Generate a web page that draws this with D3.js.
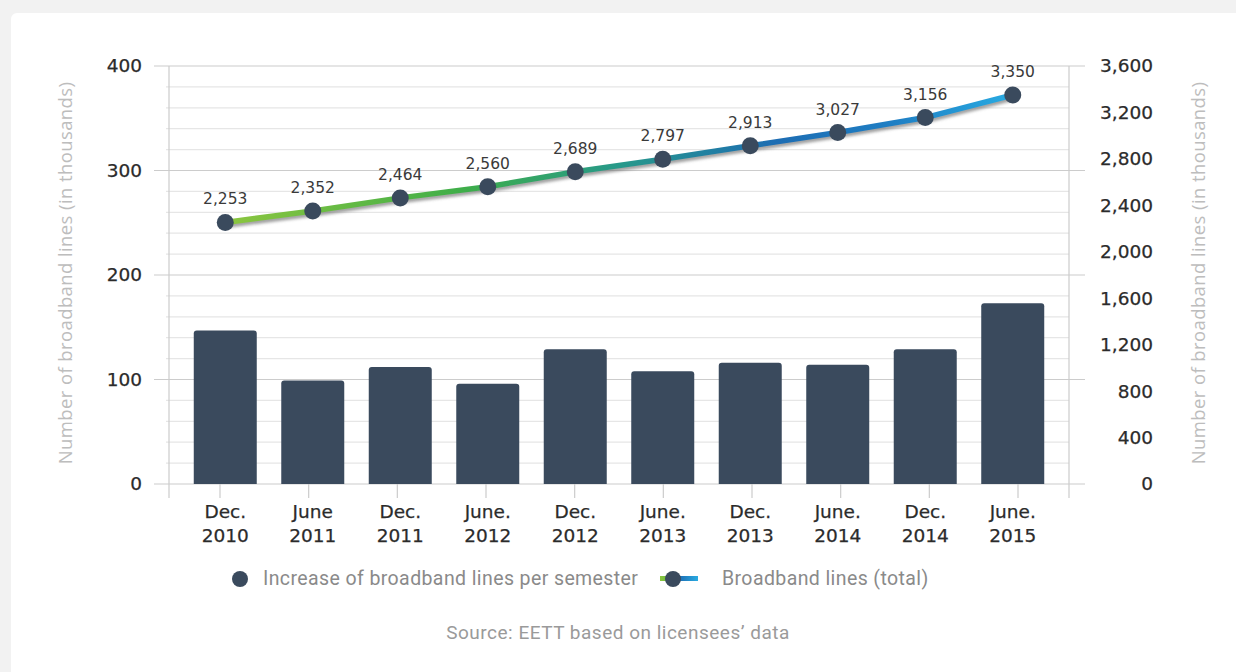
<!DOCTYPE html>
<meta charset="utf-8">
<html>
<head>
<script src="https://d3js.org/d3.v7.min.js"></script>
<style>
  body { margin: 0; background: #f2f2f2; }
  svg text { font-family: "Open Sans", sans-serif; }
</style>
</head>
<body>
<div id="chart"></div>
<script>
// data
var periods = [["Dec.", "2010"], ["June", "2011"], ["Dec.", "2011"], ["June.", "2012"], ["Dec.", "2012"],
               ["June.", "2013"], ["Dec.", "2013"], ["June.", "2014"], ["Dec.", "2014"], ["June.", "2015"]];
var increase = [147, 99, 112, 96, 129, 108, 116, 114, 129, 173];
var total = [2253, 2352, 2464, 2560, 2689, 2797, 2913, 3027, 3156, 3350];
var leftTicks = [0, 100, 200, 300, 400];
var rightTicks = [0, 400, 800, 1200, 1600, 2000, 2400, 2800, 3200, 3600];
var axisTitle = "Number of broadband lines (in thousands)";
var legendLabels = ["Increase of broadband lines per semester", "Broadband lines (total)"];
var sourceText = "Source: EETT based on licensees\u2019 data";

(function () {
var width = 1236, height = 672;
var mLeft = 169, mRight = 1069, mTop = 66, mBottom = 484;
var barColor = "#3a4a5d";
var numFont = "DejaVu Sans";

var svg = d3.select("#chart").append("svg")
    .attr("width", width).attr("height", height);

// white card
svg.append("rect").attr("x", 11).attr("y", 13).attr("width", 1240).attr("height", 700)
    .attr("rx", 6).attr("fill", "#fff");

var idx = d3.range(periods.length);
var x = d3.scaleBand(idx, [mLeft, mRight]).paddingInner(0.28).paddingOuter(0.283);
var xTick = d3.scalePoint(idx, [220, 1018]);
var yL = d3.scaleLinear([0, 400], [mBottom, mTop]);
var yR = d3.scaleLinear([0, 3600], [mBottom, mTop]);
var cx = i => x(i) + x.bandwidth() / 2;

var defs = svg.append("defs");
var grad = defs.append("linearGradient").attr("id", "lineGrad")
    .attr("gradientUnits", "userSpaceOnUse")
    .attr("x1", cx(0)).attr("x2", cx(9)).attr("y1", 0).attr("y2", 0);
[[0, "#8cc63f"], [0.3, "#3fae49"], [0.5, "#27998a"], [0.7, "#1d6db3"], [0.85, "#1f7fc4"], [1, "#29abe2"]]
  .forEach(s => grad.append("stop").attr("offset", s[0]).attr("stop-color", s[1]));
var lgGrad = defs.append("linearGradient").attr("id", "legGrad");
lgGrad.append("stop").attr("offset", 0).attr("stop-color", "#8cc63f");
lgGrad.append("stop").attr("offset", 0.5).attr("stop-color", "#3fae49");
lgGrad.append("stop").attr("offset", 0.5).attr("stop-color", "#1d6db3");
lgGrad.append("stop").attr("offset", 1).attr("stop-color", "#29abe2");
defs.append("filter").attr("id", "blur").append("feGaussianBlur").attr("stdDeviation", 1.5);

// minor grid lines
svg.append("g").selectAll("line")
    .data(d3.range(20, 400, 20).filter(v => v % 100 !== 0))
    .join("line")
    .attr("x1", mLeft - 3).attr("x2", mRight)
    .attr("y1", d => yL(d)).attr("y2", d => yL(d))
    .attr("stroke", "#e6e6e6").attr("stroke-width", 1.2);

// major grid lines
svg.append("g").selectAll("line")
    .data(leftTicks)
    .join("line")
    .attr("x1", mLeft - 15).attr("x2", mRight + 16)
    .attr("y1", d => yL(d)).attr("y2", d => yL(d))
    .attr("stroke", "#cccccc").attr("stroke-width", 1.2);

// vertical axis lines
[mLeft, mRight].forEach(px => svg.append("line")
    .attr("x1", px).attr("x2", px).attr("y1", mTop).attr("y2", mBottom + 14)
    .attr("stroke", "#cccccc").attr("stroke-width", 1.2));

var numStyle = sel => sel.attr("font-size", 18.5).attr("fill", "#2b2b2b")
    .attr("stroke", "#2b2b2b").attr("stroke-width", 0.25).style("font-family", numFont);

// left axis labels
svg.append("g")
    .attr("transform", `translate(${mLeft - 27},0)`)
    .call(d3.axisLeft(yL).tickValues(leftTicks).tickSize(0).tickPadding(0))
    .call(g => g.select(".domain").remove())
    .call(g => numStyle(g.selectAll("text")));

// right axis labels
svg.append("g")
    .attr("transform", `translate(${mRight + 84},0)`)
    .call(d3.axisLeft(yR).tickValues(rightTicks).tickSize(0).tickPadding(0).tickFormat(d3.format(",")))
    .call(g => g.select(".domain").remove())
    .call(g => numStyle(g.selectAll("text")));

// axis titles
var titleY = (mTop + mBottom) / 2 - 2;
svg.append("text").attr("transform", `translate(72,${titleY}) rotate(-90)`)
    .attr("text-anchor", "middle").attr("font-size", 18.5).attr("letter-spacing", 0.4)
    .attr("fill", "#bdbdbd").text(axisTitle);
svg.append("text").attr("transform", `translate(1205,${titleY}) rotate(-90)`)
    .attr("text-anchor", "middle").attr("font-size", 18.5).attr("letter-spacing", 0.4)
    .attr("fill", "#bdbdbd").text(axisTitle);

// x ticks
svg.append("g").selectAll("line").data(idx).join("line")
    .attr("x1", d => xTick(d)).attr("x2", d => xTick(d))
    .attr("y1", mBottom).attr("y2", mBottom + 14)
    .attr("stroke", "#cccccc").attr("stroke-width", 1.2);

// bars
svg.append("g").selectAll("path").data(idx).join("path")
    .attr("fill", barColor)
    .attr("d", i => {
      var x0 = x(i), w = x.bandwidth(), y0 = yL(increase[i]), r = 3;
      return `M${x0},${mBottom}V${y0 + r}Q${x0},${y0} ${x0 + r},${y0}H${x0 + w - r}Q${x0 + w},${y0} ${x0 + w},${y0 + r}V${mBottom}Z`;
    });

// x labels
var xl = svg.append("g").selectAll("text").data(idx).join("text")
    .attr("text-anchor", "middle").call(numStyle);
xl.append("tspan").attr("x", cx).attr("y", 518).text(i => periods[i][0]);
xl.append("tspan").attr("x", cx).attr("y", 542).text(i => periods[i][1]);

// total line
var line = d3.line().x(cx).y(i => yR(total[i]));
svg.append("path").attr("d", line(idx)).attr("fill", "none")
    .attr("stroke", "#777").attr("stroke-opacity", 0.7).attr("stroke-width", 5)
    .attr("transform", "translate(1,3)").attr("filter", "url(#blur)");
svg.append("path").attr("d", line(idx)).attr("fill", "none")
    .attr("stroke", "url(#lineGrad)").attr("stroke-width", 5.5);

svg.append("g").selectAll("circle").data(idx).join("circle")
    .attr("cx", cx).attr("cy", i => yR(total[i]))
    .attr("r", 8.5).attr("fill", barColor);

svg.append("g").selectAll("text").data(idx).join("text")
    .attr("x", cx).attr("y", i => yR(total[i]) - 18)
    .attr("text-anchor", "middle").attr("font-size", 15.5).attr("fill", "#3a3a3a")
    .style("font-family", numFont)
    .text(i => d3.format(",")(total[i]));

// legend
var leg = svg.append("g");
leg.append("circle").attr("cx", 240).attr("cy", 579).attr("r", 8).attr("fill", barColor);
leg.append("text").attr("x", 263).attr("y", 585).attr("font-size", 19.5).attr("letter-spacing", 0.4)
    .attr("fill", "#8a8a8a").style("font-family", "Roboto").text(legendLabels[0]);
leg.append("rect").attr("x", 660).attr("y", 576).attr("width", 38).attr("height", 5).attr("fill", "url(#legGrad)");
leg.append("circle").attr("cx", 673).attr("cy", 579).attr("r", 8).attr("fill", barColor);
leg.append("text").attr("x", 722).attr("y", 585).attr("font-size", 19.5).attr("letter-spacing", 0.4)
    .attr("fill", "#8a8a8a").style("font-family", "Roboto").text(legendLabels[1]);

// source
svg.append("text").attr("x", 618).attr("y", 639).attr("text-anchor", "middle")
    .attr("font-size", 19).attr("letter-spacing", 0.5).attr("fill", "#9a9a9a")
    .style("font-family", "Roboto").text(sourceText);
})();
</script>
</body>
</html>
